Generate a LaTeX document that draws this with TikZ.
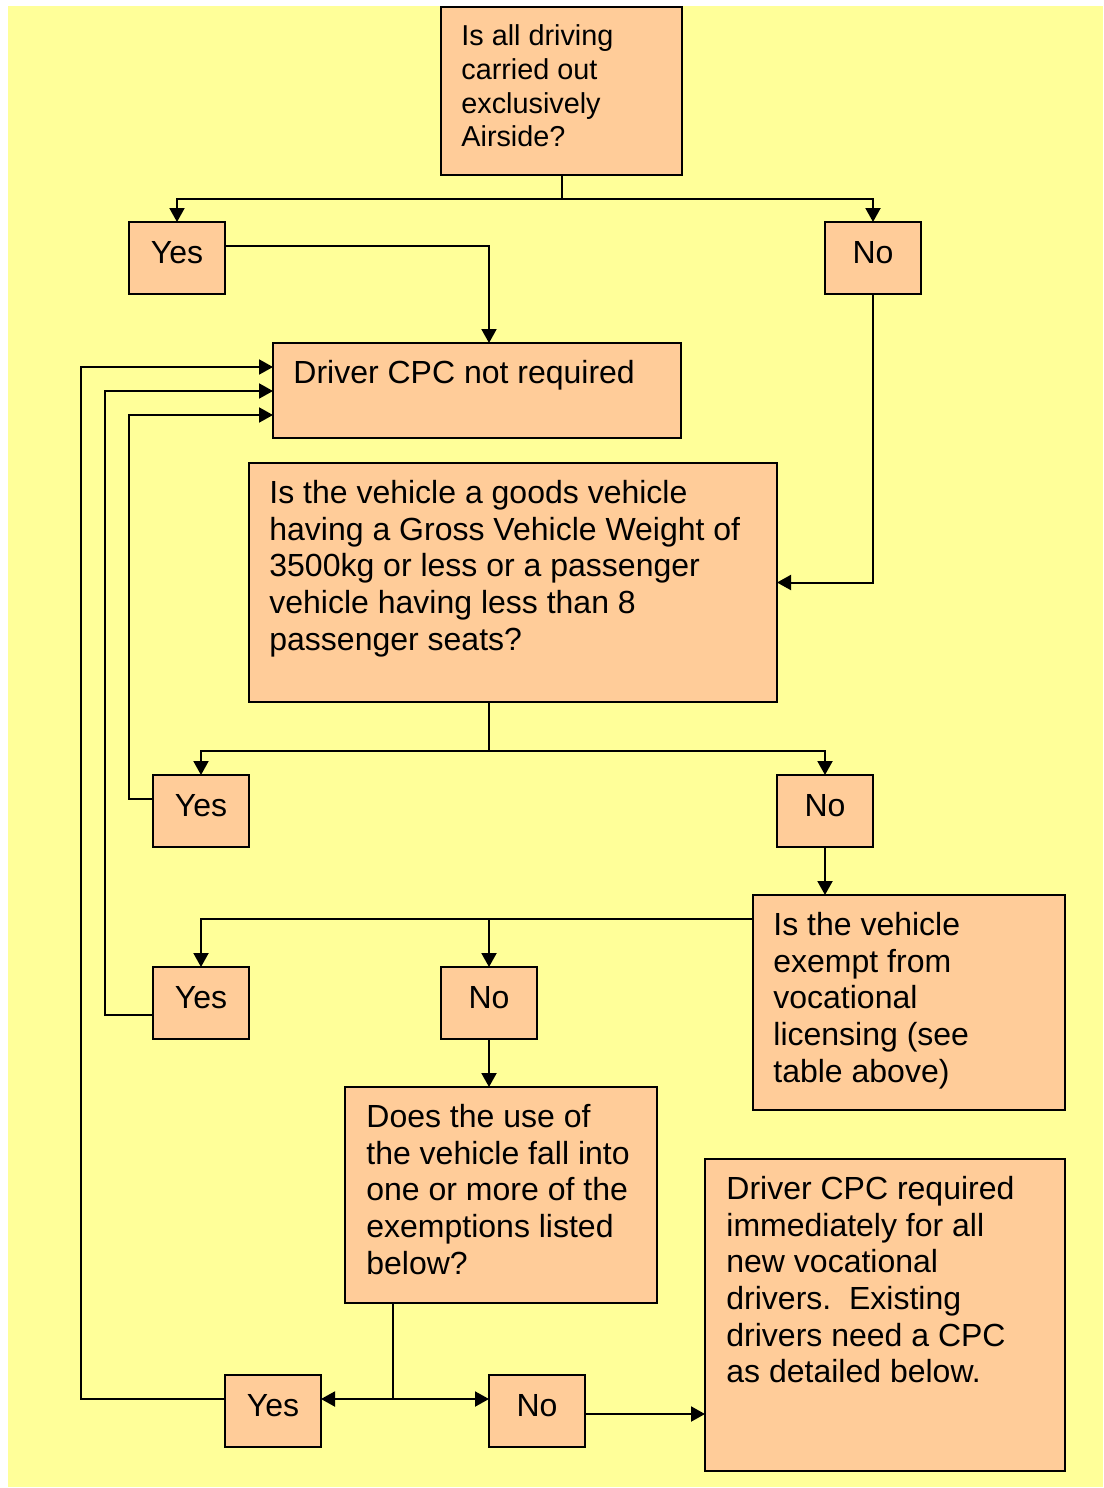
\documentclass[tikz,border=0pt]{standalone}
\usepackage{fontspec}
\setmainfont{Liberation Sans}
\usetikzlibrary{arrows.meta}
\definecolor{bgyellow}{HTML}{FFFF99}
\definecolor{boxpeach}{HTML}{FFCC99}
\begin{document}
\begin{tikzpicture}[x=0.5pt, y=-0.5pt,
  box/.style={draw=black, line width=1.1pt, fill=boxpeach, anchor=north west,
    inner sep=0pt, outer sep=0pt},
  answer/.style={box, minimum width=48pt, minimum height=36pt,
    text height=12pt, text depth=7pt,
    font=\fontsize{16pt}{18.35pt}\selectfont},
  txt/.style={anchor=north west, inner sep=0pt, align=left,
    font=\fontsize{16pt}{18.35pt}\selectfont},
  smalltxt/.style={txt, font=\fontsize{14.4pt}{16.8pt}\selectfont},
  arr/.style={draw=black, line width=1pt, -{Triangle[length=7pt,width=7.5pt]}},
  link/.style={draw=black, line width=1pt}
]
\useasboundingbox (0,0) rectangle (1103,1488);
\fill[bgyellow] (8,6) rectangle (1103,1487);

% ---- boxes ----
\node[box, minimum width=120.5pt, minimum height=84pt] (q1) at (441,7) {};
\node[smalltxt] (q1t) at ([xshift=10pt,yshift=-7.5pt]q1.north west)
  {\strut Is all driving\\carried out\\exclusively\\Airside?};

\node[answer] (y1) at (129,222) {Yes};
\node[answer] (n1) at (825,222) {No};

\node[box, minimum width=204pt, minimum height=47.5pt] (cpc) at (273,343) {};
\node[txt] (cpct) at ([xshift=10pt,yshift=-7.15pt]cpc.north west)
  {\strut Driver CPC not required};

\node[box, minimum width=264pt, minimum height=119.5pt] (q2) at (249,463) {};
\node[txt] (q2t) at ([xshift=10pt,yshift=-7.15pt]q2.north west)
  {\strut Is the vehicle a goods vehicle\\having a Gross Vehicle Weight of\\3500kg or less or a passenger\\vehicle having less than 8\\passenger seats?};

\node[answer] (y2) at (153,775) {Yes};
\node[answer] (n2) at (777,775) {No};

\node[box, minimum width=156pt, minimum height=107.5pt] (q3) at (753,895) {};
\node[txt] (q3t) at ([xshift=10pt,yshift=-7.15pt]q3.north west)
  {\strut Is the vehicle\\exempt from\\vocational\\licensing (see\\table above)};

\node[answer] (y3) at (153,967) {Yes};
\node[answer] (n3) at (441,967) {No};

\node[box, minimum width=156pt, minimum height=108pt] (q4) at (345,1087) {};
\node[txt] (q4t) at ([xshift=10.5pt,yshift=-7.15pt]q4.north west)
  {\strut Does the use of\\the vehicle fall into\\one or more of the\\exemptions listed\\below?};

\node[box, minimum width=180pt, minimum height=156pt] (req) at (705,1159) {};
\node[txt] (reqt) at ([xshift=10.5pt,yshift=-7.15pt]req.north west)
  {\strut Driver CPC required\\immediately for all\\new vocational\\drivers.\ \ Existing\\drivers need a CPC\\as detailed below.};

\node[answer] (y4) at (225,1375) {Yes};
\node[answer] (n4) at (489,1375) {No};

% ---- connectors ----
% first question splits into Yes / No
\path (q1.south) ++(0,23.5) coordinate (j1);
\draw[link] (q1.south) -- (j1);
\draw[arr] (j1) -| (y1.north);
\draw[arr] (j1) -| (n1.north);

\draw[arr] ([yshift=-12pt]y1.north east) -| ([xshift=6pt]cpc.north);
\draw[arr] (n1.south) |- (q2.east);

% second question
\coordinate (q2b) at ([xshift=-12pt]q2.south);
\path (q2b) ++(0,49) coordinate (j2);
\draw[link] (q2b) -- (j2);
\draw[arr] (j2) -| (y2.north);
\draw[arr] (j2) -| (n2.north);

\draw[arr] ([yshift=-12pt]y2.north west) -- ++(-24,0) |- ([yshift=-36pt]cpc.north west);
\draw[arr] (n2.south) -- (n2.south |- q3.north);

% third question
\coordinate (j3) at ([yshift=-12pt]q3.north west);
\draw[arr] (j3) -| (y3.north);
\draw[arr] (n3.north |- j3) -- (n3.north);

\draw[arr] ([yshift=-24pt]y3.north west) -- ++(-48,0) |- ([yshift=-24pt]cpc.north west);
\draw[arr] (n3.south) -- (n3.south |- q4.north);

% fourth question
\coordinate (q4b) at ([xshift=24pt]q4.south west);
\coordinate (y4r) at ([yshift=-12pt]y4.north east);
\coordinate (n4l) at ([yshift=-12pt]n4.north west);
\draw[link] (q4b) -- (q4b |- y4r);
\draw[arr] (q4b |- y4r) -- (y4r);
\draw[arr] (q4b |- n4l) -- (n4l);

\draw[arr] ([yshift=-12pt]y4.north west) -- ++(-144,0) |- ([yshift=-12pt]cpc.north west);
\coordinate (n4r) at ([yshift=-19.5pt]n4.north east);
\draw[arr] (n4r) -- (n4r -| req.west);
\end{tikzpicture}
\end{document}
